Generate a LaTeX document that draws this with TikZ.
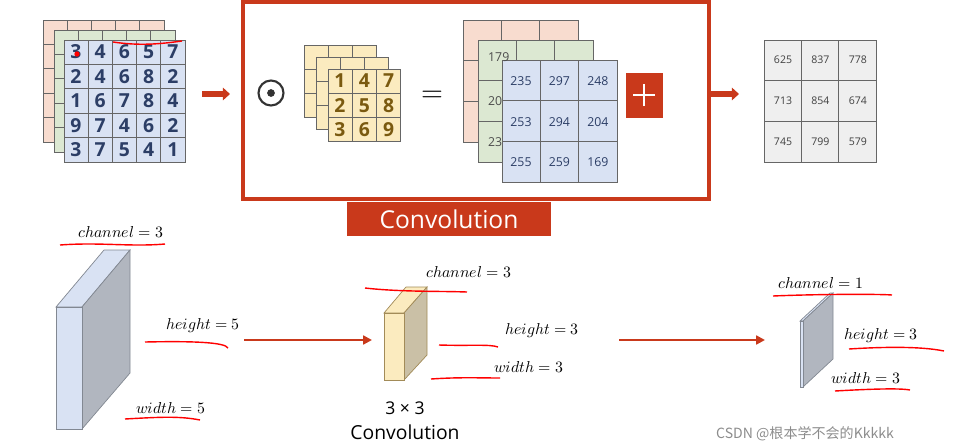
\documentclass[tikz,border=0pt]{standalone}
\usepackage{fontspec}
\setmainfont{Open Sans}
\newfontfamily\cjk{Noto Sans CJK SC}
\usepackage{unicode-math}
\setmathfont{Latin Modern Math}
\usepackage{xcolor}
\usetikzlibrary{arrows.meta,positioning}
\definecolor{convred}{HTML}{C9391B}
\definecolor{cellblue}{HTML}{D9E2F3}
\definecolor{cellgreen}{HTML}{DCE8D2}
\definecolor{cellpink}{HTML}{F8DCCF}
\definecolor{cellyellow}{HTML}{FBEBBF}
\definecolor{cellgray}{HTML}{EFEFEF}
\definecolor{numblue}{HTML}{2C3E66}
\definecolor{numbrown}{HTML}{7A5A10}
\begin{document}
\begin{tikzpicture}[x=0.02cm,y=-0.02cm,>=Latex,
  cell/.style={draw=gray!80!black, line width=0.5pt, inner sep=0pt},
  bignum/.style={font=\bfseries\fontsize{11}{11}\selectfont},
  midnum/.style={font=\fontsize{7}{7}\selectfont},
  smallnum/.style={font=\fontsize{6}{6}\selectfont, text=black!75},
  blockarrow/.style={-{Triangle[length=4pt,width=7pt]}, line width=3.5pt, draw=convred},
  flowarrow/.style={-{Triangle[length=5pt,width=5pt]}, line width=1.3pt, draw=convred},
  mathlabel/.style={font=\fontsize{9}{9}\selectfont, anchor=west},
  penmark/.style={draw=red, line width=0.8pt}]
    \useasboundingbox (0,0) rectangle (970,447);
    % input 5x5 stack
    \foreach \ox/\oy/\fc in {43/20/cellpink, 54/30/cellgreen, 64/40/cellblue}
      \foreach \c in {0,...,4} \foreach \r in {0,...,4}
        \draw[cell, fill=\fc] (\ox+24.2*\c,\oy+24.4*\r) rectangle ++(24.2,24.4);
    \foreach \row [count=\r from 0] in {{3,4,6,5,7},{2,4,6,8,2},{1,6,7,8,4},{9,7,4,6,2},{3,7,5,4,1}}
      \foreach \v [count=\c from 0] in \row
        \node[bignum, text=numblue] (in\r\c) at (76+24.2*\c,52+24.4*\r) {\v};
    \node (arrowA) at (202,94) {};
    \node (arrowAend) at (230,94) {};
    \draw[blockarrow] (arrowA.center) -- (arrowAend.center);
    % convolution frame
    \draw[convred, line width=2.5pt] (243,2) rectangle (709,199);
    \node[fill=convred, text=white, font=\fontsize{14}{14}\selectfont, minimum width=4.1cm, minimum height=0.68cm] (convlabel) at (449,219) {Convolution};
    \node[circle, draw=black!80, line width=1.2pt, minimum size=0.5cm, inner sep=0pt] (odot) at (271,93) {};
    \fill[black!80] (odot.center) circle (2.2pt);
    % kernel stack
    \foreach \ox/\oy in {304/45, 316/57, 328/69}
      \foreach \c in {0,...,2} \foreach \r in {0,...,2}
        \draw[cell, fill=cellyellow] (\ox+24.3*\c,\oy+24.3*\r) rectangle ++(24.3,24.3);
    \foreach \row [count=\r from 0] in {{1,4,7},{2,5,8},{3,6,9}}
      \foreach \v [count=\c from 0] in \row
        \node[bignum, text=numbrown] (k\r\c) at (340+24.3*\c,81+24.3*\r) {\v};
    \node[font=\fontsize{16}{16}\selectfont] (eq) at (432,96) {$=$};
    % per-channel results
    \foreach \ox/\oy/\fc in {463/20/cellpink, 478/40/cellgreen, 502/60/cellblue}
      \foreach \c in {0,...,2} \foreach \r in {0,...,2}
        \draw[cell, fill=\fc] (\ox+38.4*\c,\oy+40.7*\r) rectangle ++(38.4,40.7);
    \node[midnum, text=black!70, anchor=west] (g0) at (482,57) {179};
    \node[midnum, text=black!70, anchor=west] (g1) at (482,101) {20};
    \node[midnum, text=black!70, anchor=west] (g2) at (482,142) {23};
    \foreach \row [count=\r from 0] in {{235,297,248},{253,294,204},{255,259,169}}
      \foreach \v [count=\c from 0] in \row
        \node[midnum, text=numblue] (o\r\c) at (521+38.4*\c,81+40.7*\r) {\v};
    \node[fill=convred, minimum width=0.74cm, minimum height=0.9cm] (plus) at (644,95) {};
    \draw[white, line width=1.6pt] ([xshift=-0.22cm]plus.center) -- ([xshift=0.22cm]plus.center)
      ([yshift=-0.22cm]plus.center) -- ([yshift=0.22cm]plus.center);
    \node (arrowB) at (711,94) {};
    \node (arrowBend) at (739,94) {};
    \draw[blockarrow] (arrowB.center) -- (arrowBend.center);
    % summed result
    \foreach \c in {0,...,2} \foreach \r in {0,...,2}
      \draw[cell, fill=cellgray] (764+37.4*\c,40+40.7*\r) rectangle ++(37.4,40.7);
    \foreach \row [count=\r from 0] in {{625,837,778},{713,854,674},{745,799,579}}
      \foreach \v [count=\c from 0] in \row
        \node[smallnum] (s\r\c) at (783+37.4*\c,60+40.7*\r) {\v};
    % red pen marks on the top grid
    \draw[penmark] (113,42) .. controls (140,46) and (160,44) .. (182,41);
    \fill[red] (77,54) circle (1.5pt);
    % input block
    \draw[draw=cellblue!60!black, fill=cellblue] (56,307) -- (104,250) -- (130,250) -- (82,307) -- cycle;
    \draw[draw=cellblue!60!black, fill=cellblue!55!gray] (82,307) -- (130,250) -- (130,373) -- (82,429) -- cycle;
    \draw[draw=cellblue!60!black, fill=cellblue] (56,307) rectangle (82,429);
    \node[mathlabel] (inC) at (72,232) {$channel=3$};
    \node[mathlabel] (inH) at (160,326) {$height=5$};
    \node[mathlabel] (inW) at (130,408) {$width=5$};
    \draw[penmark] (60,245) .. controls (100,242) and (130,247) .. (165,244);
    \draw[penmark] (145,342) .. controls (190,341) and (225,342) .. (228,348);
    \draw[penmark] (125,419) .. controls (160,417) and (180,416) .. (200,420);
    \node (flowA) at (244,340) {};
    \node (flowAend) at (372,340) {};
    \draw[flowarrow] (flowA.center) -- (flowAend.center);
    % kernel block
    \draw[draw=numbrown!70, fill=cellyellow] (384,313) -- (406,287) -- (427,287) -- (404,313) -- cycle;
    \draw[draw=numbrown!70, fill=cellyellow!60!gray] (404,313) -- (427,287) -- (427,355) -- (404,380) -- cycle;
    \draw[draw=numbrown!70, fill=cellyellow] (384,313) rectangle (404,380);
    \node[mathlabel] (kC) at (420,272) {$channel=3$};
    \node[mathlabel] (kH) at (499,331) {$height=3$};
    \node[mathlabel] (kW) at (488,367) {$width=3$};
    \draw[penmark] (365,288) .. controls (400,292) and (440,291) .. (467,292);
    \draw[penmark] (439,345) .. controls (470,346) and (490,344) .. (498,347);
    \draw[penmark] (431,379) .. controls (460,377) and (480,378) .. (500,378);
    \node[font=\fontsize{10}{10}\selectfont] (kSize) at (405,408) {3 × 3};
    \node[font=\fontsize{11}{11}\selectfont] (kName) at (405,432) {Convolution};
    \node (flowB) at (619,340) {};
    \node (flowBend) at (765,340) {};
    \draw[flowarrow] (flowB.center) -- (flowBend.center);
    % output block
    \draw[draw=cellblue!60!black, fill=cellblue] (800,321) -- (830,293) -- (833,293) -- (803,321) -- cycle;
    \draw[draw=cellblue!60!black, fill=cellblue!55!gray] (803,321) -- (833,293) -- (833,359) -- (803,387) -- cycle;
    \draw[draw=cellblue!60!black, fill=cellblue] (800,321) rectangle (803,387);
    \node[mathlabel] (oC) at (772,283) {$channel=1$};
    \node[mathlabel] (oH) at (838,336) {$height=3$};
    \node[mathlabel] (oW) at (825,378) {$width=3$};
    \draw[penmark] (773,296) .. controls (820,294) and (880,294) .. (892,295);
    \draw[penmark] (849,349) .. controls (880,347) and (920,346) .. (944,351);
    \draw[penmark] (835,391) .. controls (870,389) and (900,388) .. (910,390);
    \node[anchor=west, text=black!45, font=\cjk\fontsize{8}{8}\selectfont] (wmark) at (710,434) {CSDN @根本学不会的Kkkkk};
\end{tikzpicture}
\end{document}
